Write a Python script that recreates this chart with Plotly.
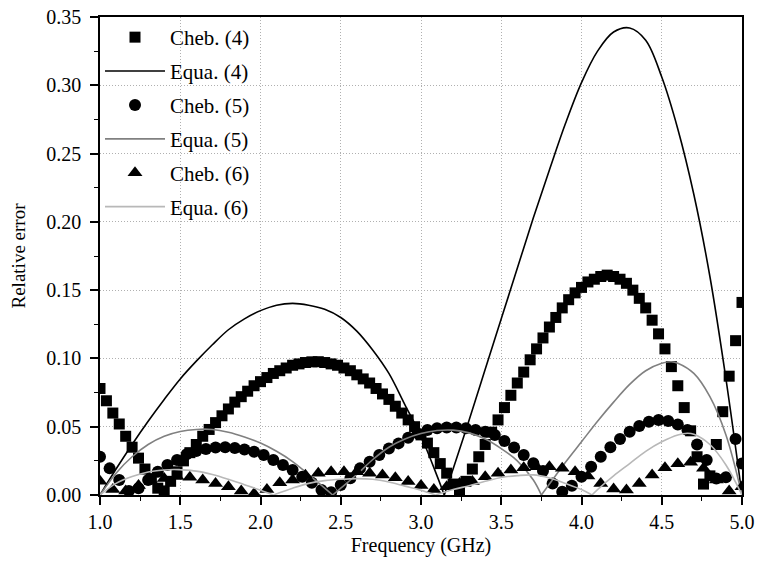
import plotly.graph_objects as go

# ---- Chebyshev approximation error (markers), sampled on regular frequency grids ----
cheb4_freq = [round(1.0 + 0.04 * i, 2) for i in range(101)]
cheb4_err = [
    0.078, 0.069, 0.060, 0.052, 0.043, 0.035, 0.027, 0.019, 0.012, 0.005,
    0.003, 0.010, 0.017, 0.025, 0.031, 0.037, 0.043, 0.048, 0.053, 0.058,
    0.063, 0.068, 0.072, 0.076, 0.080, 0.083, 0.086, 0.089, 0.091, 0.093,
    0.095, 0.096, 0.097, 0.0975, 0.0976, 0.097, 0.096, 0.095, 0.093, 0.091,
    0.088, 0.085, 0.082, 0.078, 0.074, 0.070, 0.065, 0.060, 0.055, 0.050,
    0.044, 0.038, 0.031, 0.023, 0.016, 0.008, 0.003, 0.010, 0.019, 0.028,
    0.037, 0.046, 0.055, 0.064, 0.073, 0.082, 0.090, 0.099, 0.107, 0.115,
    0.123, 0.130, 0.137, 0.143, 0.148, 0.152, 0.156, 0.158, 0.160, 0.161,
    0.160, 0.158, 0.155, 0.150, 0.144, 0.137, 0.128, 0.118, 0.107, 0.094,
    0.080, 0.064, 0.047, 0.028, 0.008, 0.014, 0.037, 0.061, 0.087, 0.113,
    0.141,
]

cheb5_freq = [round(1.0 + 0.06 * j, 2) for j in range(67)] + [5.0]
cheb5_err = [
    0.028, 0.0195, 0.011, 0.003, 0.005, 0.011, 0.017, 0.022, 0.0256, 0.0298,
    0.0322, 0.0337, 0.0347, 0.035, 0.0344, 0.0334, 0.0317, 0.0293, 0.0256, 0.022,
    0.0183, 0.0134, 0.009, 0.0037, 0.002, 0.0073, 0.0122, 0.0195, 0.0244, 0.0293,
    0.034, 0.0378, 0.042, 0.045, 0.0476, 0.0488, 0.0495, 0.0495, 0.0488, 0.0476,
    0.0463, 0.044, 0.0395, 0.0347, 0.0293, 0.0232, 0.0176, 0.0085, 0.0024, 0.0068,
    0.0134, 0.0207, 0.028, 0.0349, 0.041, 0.0463, 0.0505, 0.0537, 0.055, 0.0542,
    0.0517, 0.0476, 0.037, 0.0256, 0.012, 0.013, 0.041, 0.023,
]

cheb6_freq = [round(1.0 + 0.08 * k, 2) for k in range(51)]
cheb6_err = [
    0.010, 0.004, 0.003, 0.007, 0.010, 0.012, 0.0135, 0.013, 0.011, 0.0085,
    0.006, 0.003, 0.001, 0.004, 0.009, 0.011, 0.0145, 0.016, 0.017, 0.017,
    0.017, 0.016, 0.0146, 0.0127, 0.0098, 0.007, 0.004, 0.006, 0.0085, 0.0098,
    0.0134, 0.016, 0.0183, 0.020, 0.0207, 0.0207, 0.0195, 0.017, 0.014, 0.0085,
    0.0044, 0.0037, 0.0085, 0.0146, 0.020, 0.0228, 0.024, 0.0195, 0.011, 0.003,
    0.006,
]

# ---- closed-form error curves; each arc ends at a zero, arcs split by None ----
equa4_freq = [1.00, 1.10, 1.20, 1.30, 1.40, 1.50, 1.60, 1.70, 1.80, 1.90, 2.00,
              2.10, 2.20, 2.30, 2.40, 2.50, 2.60, 2.70, 2.80, 2.90, 3.00, 3.10, 3.145,
              None,
              3.145, 3.20, 3.30, 3.40, 3.50, 3.60, 3.70, 3.80, 3.90, 4.00, 4.10,
              4.20, 4.30, 4.40, 4.50, 4.60, 4.70, 4.80, 4.90, 5.00]
equa4_err = [0, 0.019, 0.037, 0.054, 0.070, 0.085, 0.098, 0.110, 0.121, 0.129, 0.135,
             0.139, 0.1403, 0.139, 0.136, 0.130, 0.120, 0.106, 0.089, 0.066, 0.043, 0.014, 0,
             None,
             0, 0.019, 0.055, 0.092, 0.129, 0.166, 0.203, 0.238, 0.272, 0.302, 0.325,
             0.339, 0.342, 0.333, 0.306, 0.268, 0.220, 0.160, 0.085, 0]

equa5_freq = [1.00, 1.10, 1.20, 1.30, 1.40, 1.50, 1.60, 1.70, 1.80, 1.90, 2.00,
              2.10, 2.20, 2.30, 2.40, 2.45,
              None,
              2.45, 2.50, 2.60, 2.70, 2.80, 2.90, 3.00, 3.10, 3.20, 3.30, 3.40,
              3.50, 3.60, 3.70, 3.75,
              None,
              3.75, 3.80, 3.90, 4.00, 4.10, 4.20, 4.30, 4.40, 4.50, 4.56, 4.60,
              4.70, 4.80, 4.90, 5.00]
equa5_err = [0, 0.016, 0.028, 0.037, 0.043, 0.0465, 0.048, 0.048, 0.046, 0.0425, 0.038,
             0.032, 0.0245, 0.015, 0.005, 0,
             None,
             0, 0.005, 0.015, 0.026, 0.035, 0.041, 0.045, 0.0472, 0.0475, 0.0455, 0.041,
             0.034, 0.025, 0.011, 0,
             None,
             0, 0.008, 0.024, 0.039, 0.054, 0.068, 0.081, 0.091, 0.0965, 0.0976, 0.0965,
             0.089, 0.072, 0.044, 0]

equa6_freq = [1.00, 1.10, 1.20, 1.30, 1.40, 1.46, 1.50, 1.60, 1.70, 1.80, 1.90, 2.00, 2.08,
              None,
              2.08, 2.20, 2.30, 2.40, 2.50, 2.60, 2.70, 2.80, 2.90, 3.00, 3.09,
              None,
              3.09, 3.20, 3.30, 3.40, 3.50, 3.60, 3.70, 3.80, 3.90, 4.00, 4.065,
              None,
              4.065, 4.10, 4.20, 4.30, 4.40, 4.50, 4.60, 4.66, 4.70, 4.80, 4.90, 5.00]
equa6_err = [0, 0.0085, 0.0135, 0.0168, 0.0183, 0.0187, 0.0185, 0.0175, 0.015, 0.0115,
             0.0075, 0.0035, 0,
             None,
             0, 0.005, 0.0085, 0.0105, 0.0115, 0.012, 0.0115, 0.0095, 0.0065, 0.0035, 0,
             None,
             0, 0.004, 0.0068, 0.010, 0.0128, 0.0142, 0.0147, 0.0125, 0.0085, 0.004, 0,
             None,
             0, 0.004, 0.014, 0.023, 0.032, 0.039, 0.044, 0.0452, 0.0445, 0.037, 0.022, 0]

FONT = "'Liberation Serif', 'Times New Roman', Times, serif"

fig = go.Figure()


def add_markers(name, x, y, symbol, size):
    fig.add_trace(go.Scatter(
        x=x, y=y, mode="markers", name=name, legendgroup=name,
        marker=dict(symbol=symbol, size=size, color="black", line=dict(width=0)),
    ))


def add_curve(name, x, y, color):
    fig.add_trace(go.Scatter(
        x=x, y=y, mode="lines", name=name, legendgroup=name,
        line=dict(color=color, width=1.6, shape="spline", smoothing=1.0),
        connectgaps=False,
    ))


add_markers("Cheb. (4)", cheb4_freq, cheb4_err, "square", 11)
add_curve("Equa. (4)", equa4_freq, equa4_err, "black")
add_markers("Cheb. (5)", cheb5_freq, cheb5_err, "circle", 12)
add_curve("Equa. (5)", equa5_freq, equa5_err, "#808080")
add_markers("Cheb. (6)", cheb6_freq, cheb6_err, "triangle-up", 13)
add_curve("Equa. (6)", equa6_freq, equa6_err, "#b8b8b8")

axis_common = dict(
    showline=True, linecolor="black", linewidth=1.5, mirror=True,
    ticks="outside", ticklen=8, tickwidth=1.5, tickcolor="black",
    showgrid=True, gridcolor="#b0b0b0", gridwidth=1, griddash="1px,2px",
    zeroline=False, automargin=False,
    tickfont=dict(family=FONT, size=20, color="black"),
)

fig.update_xaxes(
    range=[1, 5], tick0=1, dtick=0.5, tickformat=".1f",
    minor=dict(dtick=0.25, ticks="outside", ticklen=4, tickwidth=1.2,
               tickcolor="black", showgrid=False),
    title=dict(text="Frequency (GHz)", font=dict(family=FONT, size=20), standoff=6),
    **axis_common,
)
fig.update_yaxes(
    range=[0, 0.35], tick0=0, dtick=0.05, tickformat=".2f",
    ticklabelstandoff=5,
    minor=dict(dtick=0.025, ticks="outside", ticklen=4, tickwidth=1.2,
               tickcolor="black", showgrid=False),
    title=dict(text="Relative error", font=dict(family=FONT, size=19), standoff=16),
    **axis_common,
)

fig.update_layout(
    width=757, height=561,
    margin=dict(l=100, r=15, t=17, b=66, autoexpand=False),
    paper_bgcolor="white", plot_bgcolor="white",
    font=dict(family=FONT, size=20, color="black"),
    legend=dict(
        x=0.0, y=1.0, xanchor="left", yanchor="top",
        bgcolor="rgba(0,0,0,0)", borderwidth=0,
        font=dict(family=FONT, size=21, color="black"),
        tracegroupgap=3.6, itemwidth=60,
    ),
)

fig.write_html("out.html")
